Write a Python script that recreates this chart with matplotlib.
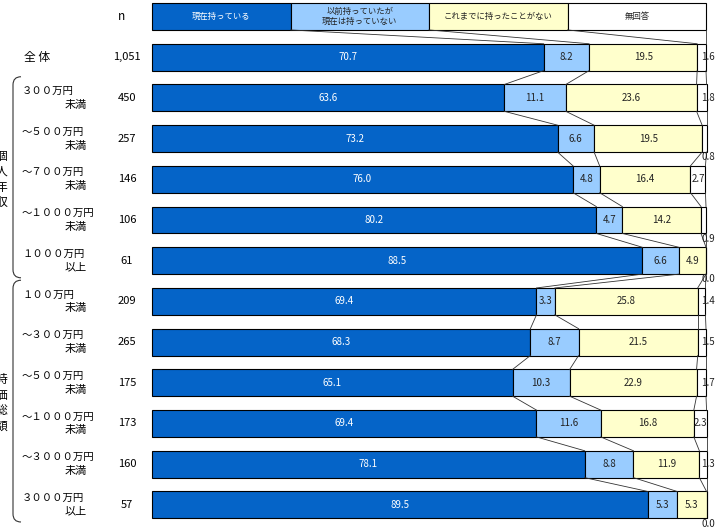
"""
保有状況の100%積み上げ横棒グラフ（個人年収別・時価総額別）。
出力: out.png
"""

import matplotlib
matplotlib.use("Agg")
import matplotlib.pyplot as plt
import matplotlib.transforms as mtransforms
from matplotlib.path import Path
from matplotlib.patches import PathPatch, Rectangle

plt.rcParams["font.family"] = ["Noto Sans CJK JP", "DejaVu Sans"]

# ── データ ──
SERIES = ["現在持っている", "以前持っていたが\n現在は持っていない",
          "これまでに持ったことがない", "無回答"]
ROW_TOP = ["全 体", "３００万円", "～５００万円", "～７００万円", "～１０００万円",
           "１０００万円", "１００万円", "～３００万円", "～５００万円",
           "～１０００万円", "～３０００万円", "３０００万円"]
ROW_SUB = ["", "未満", "未満", "未満", "未満", "以上",
           "未満", "未満", "未満", "未満", "未満", "以上"]
N = ["1,051", "450", "257", "146", "106", "61",
     "209", "265", "175", "173", "160", "57"]
NOW = [70.7, 63.6, 73.2, 76.0, 80.2, 88.5, 69.4, 68.3, 65.1, 69.4, 78.1, 89.5]
BEFORE = [8.2, 11.1, 6.6, 4.8, 4.7, 6.6, 3.3, 8.7, 10.3, 11.6, 8.8, 5.3]
NEVER = [19.5, 23.6, 19.5, 16.4, 14.2, 4.9, 25.8, 21.5, 22.9, 16.8, 11.9, 5.3]
NA = [1.6, 1.8, 0.8, 2.7, 0.9, 0.0, 1.4, 1.5, 1.7, 2.3, 1.3, 0.0]
GROUPS = [("個人年収", 1, 5), ("時価総額", 6, 11)]

COLORS = ["#0564C8", "#99CCFF", "#FFFFCC", "#FFFFFF"]
TEXT_COLORS = ["white", "#222222", "#222222", "#222222"]

W, H = 720, 529
ROW0_PX, ROW_PX = 16.5, 40.7   # 凡例行(-1)の中心と行間隔（ピクセル）
BAR_H = 0.66


def main():
    fig = plt.figure(figsize=(W / 100, H / 100), dpi=100)
    ax = fig.add_axes([152 / W, 0, 554 / W, 1])
    ax.set_xlim(0, 100)
    ax.set_ylim(-1 + (H - ROW0_PX) / ROW_PX, -1 - ROW0_PX / ROW_PX)
    ax.axis("off")

    left = mtransforms.blended_transform_factory(fig.transFigure, ax.transData)

    def fx(px):
        return px / W

    values = list(zip(NOW, BEFORE, NEVER, NA))
    rows = list(range(len(values)))

    # ── 凡例（ヘッダー行） ──
    for j, name in enumerate(SERIES):
        ax.add_patch(Rectangle((25 * j, -1 - BAR_H / 2), 25, BAR_H,
                               facecolor=COLORS[j], edgecolor="black",
                               linewidth=0.8, clip_on=False))
        ax.text(25 * j + 12.5, -1, name, ha="center", va="center",
                fontsize=6, color=TEXT_COLORS[j], linespacing=1.2)

    # ── 積み上げ棒 ──
    cums = []
    for r, vals in zip(rows, values):
        start = 0.0
        bounds = []
        for j, v in enumerate(vals):
            ax.barh(r, v, left=start, height=BAR_H, color=COLORS[j],
                    edgecolor="black", linewidth=0.8, clip_on=False)
            if v >= 2:
                ax.text(start + v / 2, r, f"{v:.1f}", ha="center",
                        va="center", fontsize=7, color=TEXT_COLORS[j])
            elif v >= 1:
                ax.text(100.4, r, f"{v:.1f}", ha="center", va="center",
                        fontsize=7, color="#222222", clip_on=False)
            else:
                # 小さい値は棒の下に表示
                ax.text(100.4, r + 0.46, f"{v:.1f}", ha="center",
                        va="center", fontsize=7, color="#222222",
                        clip_on=False)
            start += v
            bounds.append(start)
        cums.append(bounds)

    # ── 区分線 ──
    prev = [25, 50, 75, 100]
    prev_r = -1
    for r, bounds in zip(rows, cums):
        for a, b in zip(prev, bounds):
            ax.plot([a, b], [prev_r + BAR_H / 2, r - BAR_H / 2],
                    color="#333333", linewidth=0.6, clip_on=False)
        prev, prev_r = bounds, r

    # ── 左側ラベル ──
    ax.text(fx(121), -1, "n", transform=left, ha="center", va="center",
            fontsize=8.5)
    for r, top, sub, n in zip(rows, ROW_TOP, ROW_SUB, N):
        ax.text(fx(127), r, n, transform=left, ha="center", va="center",
                fontsize=8)
        if sub:
            ax.text(fx(22), r - 0.17, top, transform=left, ha="left",
                    va="center", fontsize=7.5)
            ax.text(fx(87), r + 0.17, sub, transform=left, ha="right",
                    va="center", fontsize=8)
        else:
            ax.text(fx(37), r, top, transform=left, ha="center",
                    va="center", fontsize=8.5)

    # ── グループ括弧と縦書き見出し ──
    for label, r0, r1 in GROUPS:
        top, bot = r0 - 0.52, r1 + 0.42
        c = 0.2
        verts = [(fx(21), top), (fx(13), top), (fx(13), top + c),
                 (fx(13), bot - c), (fx(13), bot), (fx(21), bot)]
        codes = [Path.MOVETO, Path.CURVE3, Path.CURVE3,
                 Path.LINETO, Path.CURVE3, Path.CURVE3]
        ax.add_patch(PathPatch(Path(verts, codes), transform=left,
                               facecolor="none", edgecolor="#333333",
                               linewidth=0.8, clip_on=False))
        mid = (r0 + r1) / 2
        for k, ch in enumerate(label):
            ax.text(fx(1.5), mid + (k - 1.5) * 0.38, ch, transform=left,
                    ha="center", va="center", fontsize=8.5)

    fig.savefig("out.png", dpi=100)
    plt.close(fig)


if __name__ == "__main__":
    main()
